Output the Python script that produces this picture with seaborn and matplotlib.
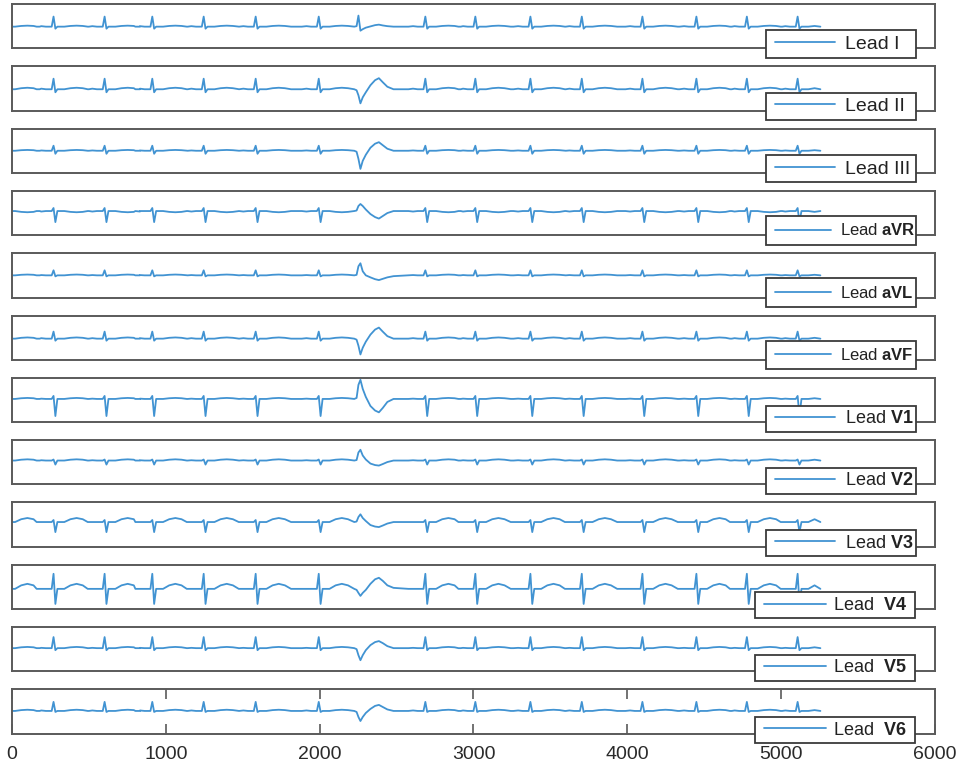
import numpy as np
import pandas as pd
import matplotlib
matplotlib.use("Agg")
import matplotlib.pyplot as plt
from matplotlib.lines import Line2D
from matplotlib.legend_handler import HandlerLine2D
import seaborn as sns

# ---------------- data ----------------
LEADS = ["I", "II", "III", "aVR", "aVL", "aVF",
         "V1", "V2", "V3", "V4", "V5", "V6"]
LEGEND_LABELS = ["Lead I", "Lead II", "Lead III",
                 r"Lead $\mathbf{aVR}$", r"Lead $\mathbf{aVL}$", r"Lead $\mathbf{aVF}$",
                 r"Lead $\mathbf{V1}$", r"Lead $\mathbf{V2}$", r"Lead $\mathbf{V3}$",
                 r"Lead  $\mathbf{V4}$", r"Lead  $\mathbf{V5}$", r"Lead  $\mathbf{V6}$"]

# R-peak sample positions of the normal beats
BEAT_TIMES = [270, 602, 912, 1246, 1584, 1994, 2687, 3012, 3370,
              3704, 4098, 4449, 4777, 5107]
LEADING_T_BEAT = -50          # beat before the record whose T wave is visible
END_TIME = 5255               # last sample of the record

# normal-beat wave amplitudes per lead (same order as LEADS)
P_AMP = [0.5, 0.6, 0.3, -0.5, 0.3, 0.5, 0.3, 0.3, 0.0, 0.0, 0.3, 0.5]
R_AMP = [10.0, 10.5, 5.0, 3.0, 5.0, 7.0, 3.0, 1.0, 2.0, 15.0, 11.0, 9.0]
S_AMP = [-2.0, -3.0, -3.0, -11.0, -1.0, -2.0, -17.0, -4.0, -10.0, -15.0, -2.0, -1.0]
T_AMP = [1.0, 1.5, 0.8, -1.2, 0.8, 1.2, 1.0, 1.2, 4.0, 5.0, 1.2, 1.2]

# premature ventricular beat: sample positions and per-lead values
PVC_TIMES = [2225, 2240, 2252, 2265, 2280, 2300, 2330, 2360, 2385, 2410, 2440, 2480]
PVC_I   = [0, 0.5, 11.0, -4.0, -2.5, -1.0, 0.3, 1.5, 2.0, 1.2, 0.5, 0]
PVC_II  = [0, -1.0, -6.0, -14.0, -8.0, -3.0, 4.0, 9.0, 11.0, 7.0, 2.5, 0]
PVC_III = [0, -1.0, -8.0, -18.0, -10.0, -4.0, 3.0, 7.0, 8.5, 5.5, 2.0, 0]
PVC_AVR = [0, 0.5, 5.0, 7.0, 5.0, 1.5, -3.0, -6.0, -7.5, -5.0, -2.0, 0]
PVC_AVL = [0, 0.5, 9.0, 12.0, 4.0, 0.0, -2.0, -3.8, -4.7, -3.5, -2.0, -0.8]
PVC_AVF = [0, -1.0, -7.0, -15.7, -9.0, -3.0, 4.0, 9.0, 11.0, 7.0, 2.5, 0]
PVC_V1  = [0, 1.0, 14.0, 19.0, 10.0, 2.0, -7.0, -11.5, -13.3, -9.0, -3.0, 0]
PVC_V2  = [0, 0.5, 8.0, 10.7, 5.0, 1.0, -3.0, -4.5, -5.0, -3.5, -1.5, 0]
PVC_V3  = [0, 0.5, 5.0, 7.7, 4.0, 1.0, -3.0, -4.5, -5.0, -3.5, -1.5, 0]
PVC_V4  = [0, -1.0, -4.0, -7.0, -4.0, -1.0, 5.0, 9.5, 11.0, 8.0, 3.5, 1.0]
PVC_V5  = [0, -1.0, -7.0, -12.0, -7.0, -2.0, 3.0, 6.0, 7.0, 5.0, 2.0, 0]
PVC_V6  = [0, -1.0, -6.0, -10.0, -6.0, -2.0, 2.0, 5.0, 6.0, 4.0, 1.5, 0]
PVC_VALUES = [PVC_I, PVC_II, PVC_III, PVC_AVR, PVC_AVL, PVC_AVF,
              PVC_V1, PVC_V2, PVC_V3, PVC_V4, PVC_V5, PVC_V6]

# baseline position relative to the centre of each panel
BASE_SHIFT = [-0.5, -0.8, 0.0, 2.0, 0.0, -1.0, 1.0, 1.7, 2.5, -2.0, 1.0, 0.5]

X_TICKS = [0, 1000, 2000, 3000, 4000, 5000, 6000]

# ---------------- style / layout ----------------
LINE_COLOR = "#4193d2"
SPINE_COLOR = "#5a5a5a"
P_OFF = (-110, -80, -50)
QRS_OFF = (-12, 0, 12, 25)
T_OFF = (70, 110, 150, 190, 230)
T_SHAPE = (0.0, 0.7, 1.0, 0.7, 0.0)

LEG_SIZES = [14, 14, 14, 12, 12, 12, 13, 13, 13, 13, 13, 13]


def build_trace(k):
    pts = [(0, 0.0)]
    tb = LEADING_T_BEAT
    pts += [(tb + o, T_AMP[k] * s) for o, s in zip(T_OFF, T_SHAPE)]
    for b in BEAT_TIMES:
        pts += [(b + P_OFF[0], 0.0), (b + P_OFF[1], P_AMP[k]), (b + P_OFF[2], 0.0),
                (b + QRS_OFF[0], 0.0), (b + QRS_OFF[1], R_AMP[k]),
                (b + QRS_OFF[2], S_AMP[k]), (b + QRS_OFF[3], 0.0)]
        pts += [(b + o, T_AMP[k] * s) for o, s in zip(T_OFF, T_SHAPE)]
    pts += list(zip(PVC_TIMES, PVC_VALUES[k]))
    pts = sorted(p for p in pts if 0 <= p[0] < END_TIME)
    pts.append((END_TIME, 0.0))
    return pd.DataFrame(pts, columns=["sample", "amp"])


sns.set_style("white")
plt.rcParams["font.family"] = ["Liberation Sans", "DejaVu Sans"]
plt.rcParams["mathtext.fontset"] = "custom"
plt.rcParams["mathtext.bf"] = "Liberation Sans:bold"
plt.rcParams["mathtext.rm"] = "Liberation Sans"

FW, FH = 964, 766
fig = plt.figure(figsize=(FW / 100, FH / 100), dpi=100)
fig.patch.set_facecolor("white")

AX_L, AX_W, AX_H = 12, 923, 44.3
TOP0, STEP = 4, 62.3

for k, lead in enumerate(LEADS):
    top = TOP0 + k * STEP
    ax = fig.add_axes([AX_L / FW, 1 - (top + AX_H) / FH, AX_W / FW, AX_H / FH])
    df = build_trace(k)
    sns.lineplot(data=df, x="sample", y="amp", ax=ax, color=LINE_COLOR,
                 linewidth=1.3, estimator=None, sort=False,
                 label=LEGEND_LABELS[k])
    ax.set_xlim(0, 6000)
    ax.set_ylim(-22 - BASE_SHIFT[k], 22 - BASE_SHIFT[k])
    ax.set_xlabel("")
    ax.set_ylabel("")
    ax.set_yticks([])
    for sp in ax.spines.values():
        sp.set_visible(True)
        sp.set_color(SPINE_COLOR)
        sp.set_linewidth(1.4)
    if k == len(LEADS) - 1:
        ax.set_xticks(X_TICKS)
        ax.set_xticklabels([str(t) for t in X_TICKS])
        ax.tick_params(axis="x", direction="in", top=True, bottom=True,
                       length=7, width=1.2, color=SPINE_COLOR,
                       labelsize=14, labelcolor="#2a2a2a", pad=9)
    else:
        ax.set_xticks([])

    # legend geometry (pixels)
    wide = k >= 9
    small = 3 <= k <= 5
    box_left = 755 if wide else 766
    box_w = 160 if wide else 150
    h_start = 9                                    # handle start from box edge
    h_len = 62 if wide else (56 if small else 60)  # handle length
    text_start = 78 if wide else (74 if small else 79)
    fs = LEG_SIZES[k]
    fpx = fs * 100 / 72.0
    bp = 0.38 if small else 0.25
    bp_px = bp * fpx
    xpad = (h_start - bp_px) / fpx
    hl = (h_len + h_start - bp_px) / fpx
    htp = (text_start - h_start - h_len) / fpx

    leg = ax.legend(loc="lower left",
                    bbox_to_anchor=((box_left - AX_L) / AX_W, -9.5 / AX_H, box_w / AX_W, 0),
                    mode="expand", borderaxespad=0, fancybox=False,
                    framealpha=1, edgecolor="#3a3a3a",
                    prop={"family": "Liberation Sans", "size": fs},
                    handlelength=hl, handletextpad=htp, borderpad=bp,
                    labelcolor="#222222",
                    handler_map={Line2D: HandlerLine2D(xpad=xpad)})
    leg.get_frame().set_linewidth(1.3)

fig.savefig("out.png", dpi=100, facecolor="white")
